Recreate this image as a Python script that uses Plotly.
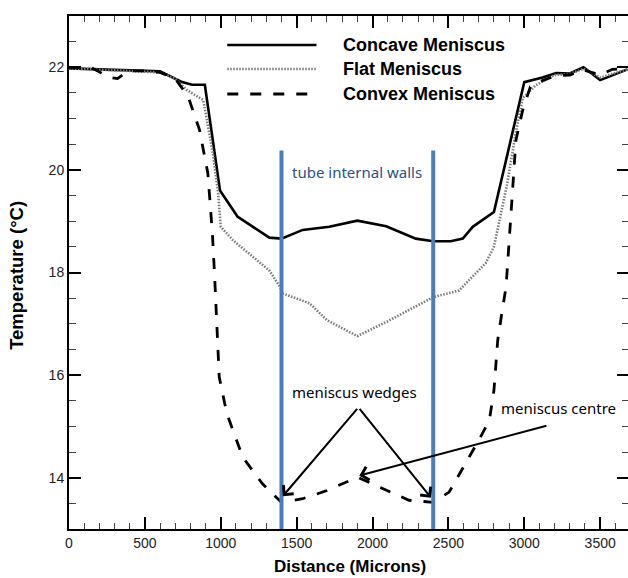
import plotly.graph_objects as go

# ---------------- data ----------------
concave_x = [0, 100, 200, 300, 400, 500, 600, 740, 810, 895, 995, 1110, 1320, 1400, 1540, 1715,
             1900, 2090, 2285, 2400, 2515, 2595, 2660, 2800, 3000, 3120, 3210, 3300, 3390, 3500, 3680]
concave_y = [21.98, 21.97, 21.96, 21.95, 21.94, 21.93, 21.92, 21.72, 21.66, 21.66, 19.6, 19.09, 18.68,
             18.66, 18.83, 18.89, 19.01, 18.9, 18.66, 18.61, 18.61, 18.66, 18.89, 19.18, 21.71, 21.8,
             21.89, 21.88, 22.0, 21.75, 21.96]

flat_x = [0, 200, 400, 600, 700, 775, 885, 949, 982, 1000, 1080, 1235, 1320, 1390, 1410, 1585, 1700,
          1900, 2100, 2400, 2570, 2745, 2800, 2888, 2943, 2990, 3075, 3200, 3300, 3390, 3500, 3680]
flat_y = [21.98, 21.95, 21.93, 21.9, 21.78, 21.56, 21.36, 20.3, 19.57, 18.89, 18.63, 18.24, 18.04,
          17.72, 17.59, 17.4, 17.07, 16.76, 17.05, 17.52, 17.65, 18.18, 18.5, 19.74, 20.71, 21.4,
          21.65, 21.85, 21.87, 21.97, 21.8, 21.96]

convex_x = [0, 150, 270, 320, 390, 500, 600, 700, 785, 860, 915, 945, 960, 975, 990, 1040, 1145,
            1275, 1400, 1540, 1700, 1900, 2100, 2240, 2400, 2505, 2700, 2770, 2800, 2825, 2855, 2880,
            2945, 2990, 3040, 3120, 3210, 3300, 3390, 3500, 3580, 3680]
convex_y = [22.0, 21.99, 21.8, 21.78, 21.93, 21.93, 21.9, 21.78, 21.43, 20.78, 19.93, 18.76, 17.9,
            17.0, 15.96, 15.25, 14.4, 13.88, 13.52, 13.59, 13.75, 14.01, 13.75, 13.56, 13.52, 13.72,
            14.73, 15.12, 15.7, 16.68, 17.27, 17.72, 20.58, 21.17, 21.62, 21.74, 21.84, 21.85, 21.95,
            21.85, 21.96, 21.97]

series_names = ["Concave Meniscus", "Flat Meniscus", "Convex Meniscus"]
wall_x = [1400, 2400]
wall_top = 20.38
wall_label = "tube internal walls"

x_ticks = [0, 500, 1000, 1500, 2000, 2500, 3000, 3500]
y_ticks = [14, 16, 18, 20, 22]
x_range = [0, 3690]
y_range = [13, 23]

wedge_label = "meniscus wedges"
wedge_apex = (1907, 15.37)
wedge_tips = [(1409, 13.64), (2385, 13.61)]
centre_label = "meniscus centre"
centre_tail = (3156, 15.02)
centre_tip = (1913, 14.04)

# ---------------- styles ----------------
styles = [
    dict(color="black", width=2.6, dash="solid"),
    dict(color="#7a7a7a", width=2.6, dash="1.5px,1.5px"),
    dict(color="black", width=2.8, dash="11px,12px"),
]

fig = go.Figure()
for xs, ys, name, st in zip([concave_x, flat_x, convex_x], [concave_y, flat_y, convex_y],
                            series_names, styles):
    fig.add_trace(go.Scatter(x=xs, y=ys, mode="lines", name=name, line=st,
                             showlegend=False, hoverinfo="skip"))

# tube walls
for wx in wall_x:
    fig.add_shape(type="line", xref="x", yref="y", x0=wx, x1=wx, y0=y_range[0], y1=wall_top,
                  line=dict(color="#4a7ebb", width=4), layer="above")

fig.add_annotation(x=sum(wall_x) / 2, y=19.95, xref="x", yref="y", text=wall_label,
                   showarrow=False, font=dict(family="Noto Sans", size=15, color="#2a5189"))

# custom legend
leg_y = [0.9435, 0.8967, 0.848]
for name, st, ly in zip(series_names, styles, leg_y):
    fig.add_shape(type="line", xref="paper", yref="paper", x0=0.2826, x1=0.4419, y0=ly, y1=ly,
                  line=dict(color=st["color"], width=st["width"], dash=st["dash"]))
    fig.add_annotation(x=0.486, y=ly, xref="paper", yref="paper", text=name, showarrow=False,
                       xanchor="left", yanchor="middle",
                       font=dict(family="Liberation Sans", size=18, color="black", weight="bold"))

# arrows
for tx, ty in wedge_tips:
    fig.add_annotation(x=tx, y=ty, ax=wedge_apex[0], ay=wedge_apex[1], xref="x", yref="y",
                       axref="x", ayref="y", text="", showarrow=True, arrowhead=4,
                       arrowsize=1.3, arrowwidth=2, arrowcolor="black", standoff=0)
fig.add_annotation(x=centre_tip[0], y=centre_tip[1], ax=centre_tail[0], ay=centre_tail[1],
                   xref="x", yref="y", axref="x", ayref="y", text="", showarrow=True,
                   arrowhead=4, arrowsize=1.3, arrowwidth=2, arrowcolor="black", standoff=0)
fig.add_annotation(x=1880, y=15.68, xref="x", yref="y", text=wedge_label, showarrow=False,
                   font=dict(family="Noto Sans", size=15, color="black"))
fig.add_annotation(x=3620, y=15.36, xref="x", yref="y", text=centre_label, showarrow=False,
                   xanchor="right",
                   font=dict(family="Noto Sans", size=15, color="black"))

# axis titles
fig.add_annotation(x=0.501, y=-0.074, xref="paper", yref="paper", text="Distance (Microns)",
                   showarrow=False, yanchor="middle",
                   font=dict(family="Liberation Sans", size=17, color="black", weight="bold"))
fig.add_annotation(x=-0.095, y=0.495, xref="paper", yref="paper", text="Temperature (°C)",
                   showarrow=False, textangle=-90, xanchor="center", yanchor="middle",
                   font=dict(family="Liberation Sans", size=18.5, color="black", weight="bold"))

axis_common = dict(showline=True, linecolor="black", linewidth=2, mirror="allticks",
                   ticks="inside", ticklen=12, tickwidth=2, tickcolor="black",
                   showgrid=False, zeroline=False,
                   tickfont=dict(family="Liberation Sans", size=14, color="#222"))

fig.update_xaxes(range=x_range, tickvals=x_ticks, ticktext=[str(v) for v in x_ticks],
                 minor=dict(dtick=100, ticks="inside", ticklen=6, tickwidth=1, tickcolor="#444"),
                 **axis_common)
fig.update_yaxes(range=y_range, tickvals=y_ticks, ticktext=[str(v) for v in y_ticks],
                 minor=dict(dtick=0.5, ticks="inside", ticklen=7, tickwidth=1, tickcolor="#444"),
                 **axis_common)

# plot area runs slightly past the right edge of the window, as in the reference
fig.update_layout(width=631, height=578, margin=dict(l=69, r=0, t=16, b=49),
                  plot_bgcolor="white", paper_bgcolor="white", showlegend=False)

fig.write_html("out.html", config={"displayModeBar": False},
               post_script="document.body.style.margin='0';"
                           "document.body.style.overflow='hidden';"
                           "document.documentElement.style.overflow='hidden';")
